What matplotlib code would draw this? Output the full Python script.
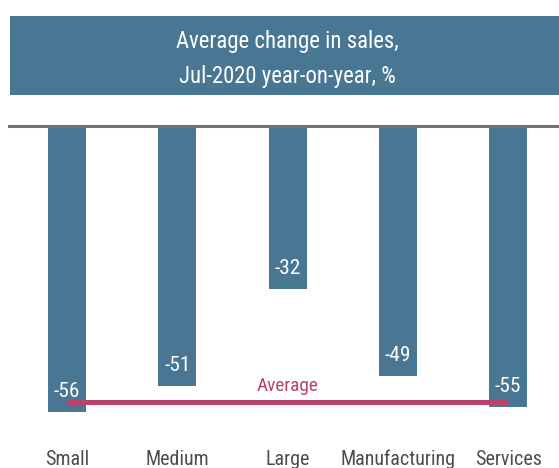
import matplotlib
matplotlib.use("Agg")
import matplotlib.pyplot as plt
from matplotlib import font_manager as fm
from matplotlib.font_manager import FontProperties
from matplotlib.patches import Rectangle
from matplotlib.textpath import TextPath

# Data
categories = ["Small", "Medium", "Large", "Manufacturing", "Services"]
values = [-56, -51, -32, -49, -55]
average = -54
average_label = "Average"
title_lines = ["Average change in sales,", "Jul-2020 year-on-year, %"]

BAR = "#487693"
AVG = "#B7436D"
AXIS = "#737373"
LABEL = "#4d4d4d"


def pick_font():
    """Prefer a narrow / condensed sans face if one is installed."""
    narrow = []
    for f in fm.fontManager.ttflist:
        name = (f.name + " " + f.fname).lower()
        if f.style != "normal" or f.weight not in (400, "normal", "regular"):
            continue
        if any(k in name for k in ("narrow", "condensed")) or \
                str(f.stretch).endswith("condensed"):
            if "bold" in f.fname.lower() or "oblique" in f.fname.lower() \
                    or "italic" in f.fname.lower():
                continue
            narrow.append(f)
    order = ["liberation sans narrow", "roboto condensed", "open sans condensed",
             "noto sans condensed", "dejavu sans condensed", "dejavu sans"]
    for key in order:
        for f in narrow:
            if key in (f.name + " " + f.fname).lower().replace("-", " ").replace("_", " ") \
                    or key.replace(" ", "") in f.fname.lower():
                return FontProperties(fname=f.fname)
    if narrow:
        return FontProperties(fname=narrow[0].fname)
    return FontProperties(family="DejaVu Sans")


FP = pick_font()


def width_px(text, size):
    tp = TextPath((0, 0), text, size=size, prop=FP)
    b = tp.get_extents()
    return b.width * 100 / 72


# scale sizes relative to the width of the longest category label
k = 112 / width_px("Manufacturing", 14.5)
S_TITLE = 16.5 * k
S_VAL = 15.5 * k
S_CAT = 14.5 * k
S_AVG = 14 * k


def fp(size):
    p = FP.copy()
    p.set_size(size)
    return p


W, H = 559, 468
fig = plt.figure(figsize=(W / 100, H / 100), dpi=100)
fig.patch.set_facecolor("white")

# title banner
fig.patches.append(Rectangle((10 / W, 1 - 94.7 / H), (W - 10) / W, 78.7 / H,
                             transform=fig.transFigure, facecolor=BAR,
                             edgecolor="none", zorder=0))
for line, base in zip(title_lines, [48.0, 82.7]):
    fig.text(287 / W, 1 - base / H, line, ha="center", va="baseline",
             color="white", fontproperties=fp(S_TITLE))

ax = fig.add_axes([0, 0, 1, 1])
ax.set_facecolor("none")
step = 110.3
x0 = 67
ax.set_xlim(-x0 / step, (W - x0) / step)
ppu = 5.105
zero = 126
ax.set_ylim(-(H - zero) / ppu, zero / ppu)
ax.axis("off")

xs = list(range(len(categories)))
ax.bar(xs, values, width=0.345, color=BAR, zorder=2)
ax.axhline(0, xmin=9.3 / W, xmax=1, color=AXIS, lw=2.2, zorder=3)

for x, v in zip(xs, values):
    ax.annotate(f"{v}", (x, v), xytext=(0, 10.8), textcoords="offset points",
                ha="center", va="baseline", color="white",
                fontproperties=fp(S_VAL), zorder=5)
    ax.annotate(categories[x], (x, 0), xycoords=("data", "axes fraction"),
                xytext=(0, (H - 465) * 0.72), textcoords="offset points",
                ha="center", va="baseline", color=LABEL,
                fontproperties=fp(S_CAT))

ax.plot([xs[0], xs[-1]], [average, average], color=AVG, lw=3.6,
        solid_capstyle="butt", zorder=4)
ax.annotate(average_label, ((xs[0] + xs[-1]) / 2, average), xytext=(0, 7.5),
            textcoords="offset points", ha="center", va="baseline",
            color=AVG, fontproperties=fp(S_AVG), zorder=5)

fig.savefig("out.png", dpi=100, facecolor="white")
